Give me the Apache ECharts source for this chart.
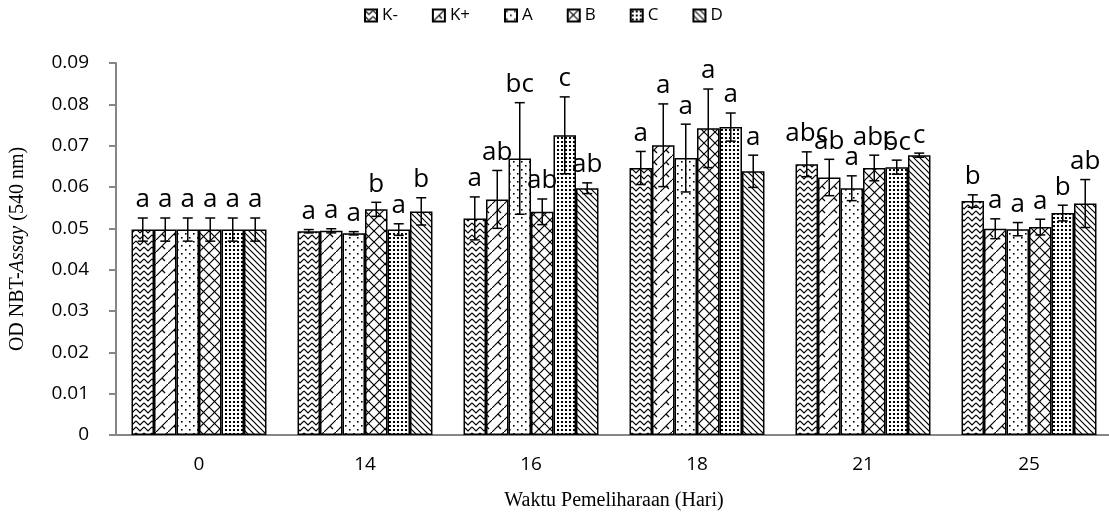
<!DOCTYPE html>
<html>
<head>
<meta charset="utf-8">
<script src="https://cdn.jsdelivr.net/npm/echarts@6/dist/echarts.min.js"></script>
<style>
html, body { margin: 0; padding: 0; background: #fff; }
#main { width: 1109px; height: 516px; }
</style>
</head>
<body>
<div id="main"></div>
<script>
// data
var categories = ['0', '14', '16', '18', '21', '25'];
var seriesNames = ['K-', 'K+', 'A', 'B', 'C', 'D'];

var kMinus = [0.0497, 0.0493, 0.0524, 0.0646, 0.0655, 0.0566];
var kPlus  = [0.0497, 0.0494, 0.0570, 0.0701, 0.0623, 0.0499];
var trtA   = [0.0497, 0.0488, 0.0669, 0.0670, 0.0597, 0.0498];
var trtB   = [0.0497, 0.0546, 0.0540, 0.0742, 0.0646, 0.0503];
var trtC   = [0.0497, 0.0497, 0.0725, 0.0745, 0.0648, 0.0537];
var trtD   = [0.0497, 0.0541, 0.0597, 0.0638, 0.0677, 0.0560];

// standard deviation (error bars)
var errKMinus = [0.0028, 0.0004, 0.0052, 0.0040, 0.0030, 0.0015];
var errKPlus  = [0.0028, 0.0005, 0.0070, 0.0100, 0.0044, 0.0024];
var errA      = [0.0028, 0.0004, 0.0135, 0.0082, 0.0030, 0.0016];
var errB      = [0.0028, 0.0017, 0.0031, 0.0095, 0.0031, 0.0019];
var errC      = [0.0028, 0.0014, 0.0093, 0.0034, 0.0017, 0.0019];
var errD      = [0.0028, 0.0033, 0.0013, 0.0039, 0.0005, 0.0058];

// notasi huruf
var labKMinus = ['a', 'a', 'a', 'a', 'abc', 'b'];
var labKPlus  = ['a', 'a', 'ab', 'a', 'ab', 'a'];
var labA      = ['a', 'a', 'bc', 'a', 'a', 'a'];
var labB      = ['a', 'b', 'ab', 'a', 'abc', 'a'];
var labC      = ['a', 'a', 'c', 'a', 'bc', 'b'];
var labD      = ['a', 'b', 'ab', 'a', 'c', 'ab'];

var yTicks = [0, 0.09, 0.01]; // min, max, interval

var values = [kMinus, kPlus, trtA, trtB, trtC, trtD];
var errors = [errKMinus, errKPlus, errA, errB, errC, errD];
var letters = [labKMinus, labKPlus, labA, labB, labC, labD];

var catGap = 0.187;

// pola arsiran (pattern fills)
function tile(w, h, draw) {
    var c = document.createElement('canvas');
    c.width = w; c.height = h;
    var ctx = c.getContext('2d');
    ctx.fillStyle = '#fff';
    ctx.fillRect(0, 0, w, h);
    ctx.strokeStyle = '#000';
    ctx.fillStyle = '#000';
    ctx.lineWidth = 1.2;
    draw(ctx);
    return { image: c, repeat: 'repeat' };
}
var patterns = [
    tile(8, 6, function (ctx) { // zigzag
        ctx.beginPath(); ctx.moveTo(0, 1); ctx.lineTo(4, 5); ctx.lineTo(8, 1); ctx.stroke();
    }),
    tile(12, 12, function (ctx) { // diagonal shingle
        ctx.beginPath(); ctx.moveTo(-1, 13); ctx.lineTo(13, -1); ctx.stroke();
        ctx.beginPath(); ctx.moveTo(6, 6); ctx.lineTo(9, 9); ctx.stroke();
    }),
    tile(8, 8, function (ctx) { // sparse dots
        ctx.fillRect(1, 1, 1.6, 1.6); ctx.fillRect(5, 5, 1.6, 1.6);
    }),
    tile(11, 11, function (ctx) { // diamond lattice
        ctx.beginPath(); ctx.moveTo(0, 0); ctx.lineTo(11, 11); ctx.stroke();
        ctx.beginPath(); ctx.moveTo(0, 11); ctx.lineTo(11, 0); ctx.stroke();
    }),
    tile(4, 4, function (ctx) { // dense dots
        ctx.fillRect(1, 1, 2, 2);
    }),
    tile(6, 6, function (ctx) { // downward diagonal
        ctx.beginPath(); ctx.moveTo(-1, -1); ctx.lineTo(7, 7); ctx.stroke();
        ctx.beginPath(); ctx.moveTo(-4, 2); ctx.lineTo(4, 10); ctx.stroke();
        ctx.beginPath(); ctx.moveTo(2, -4); ctx.lineTo(10, 4); ctx.stroke();
    })
];

var myChart = echarts.init(document.getElementById('main'));

var series = [];
seriesNames.forEach(function (name, i) {
    series.push({
        name: name,
        type: 'bar',
        data: values[i],
        barGap: '0%',
        barCategoryGap: (catGap * 100) + '%',
        itemStyle: { color: patterns[i], borderColor: '#000', borderWidth: 1.5 },
        z: 2
    });
});
seriesNames.forEach(function (name, i) {
    series.push({
        name: name + ' sd',
        type: 'custom',
        z: 5,
        data: values[i].map(function (v, k) { return [k, v, errors[i][k]]; }),
        renderItem: function (params, api) {
            var k = api.value(0), v = api.value(1), e = api.value(2);
            var band = api.size([1, 0])[0];
            var bw = band * (1 - catGap) / seriesNames.length;
            var x = api.coord([k, 0])[0] + (i - 2.5) * bw;
            var yTop = api.coord([k, v + e])[1];
            var yBot = api.coord([k, v - e])[1];
            var st = { stroke: '#000', lineWidth: 1.5 };
            return {
                type: 'group',
                children: [
                    { type: 'line', shape: { x1: x, y1: yTop, x2: x, y2: yBot }, style: st },
                    { type: 'line', shape: { x1: x - 5, y1: yTop, x2: x + 5, y2: yTop }, style: st },
                    { type: 'line', shape: { x1: x - 5, y1: yBot, x2: x + 5, y2: yBot }, style: st },
                    {
                        type: 'text',
                        style: {
                            text: letters[i][k], x: x, y: yTop - 5,
                            align: 'center', verticalAlign: 'bottom',
                            font: '26px "Open Sans"', fill: '#000'
                        }
                    }
                ]
            };
        }
    });
});

var option = {
    animation: false,
    backgroundColor: '#fff',
    legend: {
        data: seriesNames,
        top: 2,
        left: 359,
        icon: 'rect',
        itemWidth: 12,
        itemHeight: 12,
        itemGap: 34,
        textStyle: { fontFamily: 'Open Sans', fontSize: 17, color: '#000' }
    },
    grid: { left: 116, width: 996, top: 63, height: 372, outerBoundsMode: 'none', containLabel: false },
    xAxis: {
        type: 'category',
        data: categories,
        name: 'Waktu Pemeliharaan (Hari)',
        nameLocation: 'middle',
        nameGap: 56,
        nameTextStyle: { fontFamily: 'Liberation Serif', fontSize: 20, color: '#000' },
        axisLine: { lineStyle: { color: '#868686', width: 2 } },
        axisTick: { length: 7, lineStyle: { color: '#868686', width: 2 } },
        axisLabel: { fontFamily: 'Open Sans', fontSize: 19, color: '#000', margin: 20 }
    },
    yAxis: {
        type: 'value',
        min: yTicks[0],
        max: yTicks[1],
        interval: yTicks[2],
        name: '{n|OD NBT-}{i|Assay}{n| (540 nm)}',
        nameLocation: 'middle',
        nameGap: 88,
        nameTextStyle: {
            rich: {
                n: { fontFamily: 'Liberation Serif', fontSize: 20, color: '#000' },
                i: { fontFamily: 'Liberation Serif', fontSize: 20, fontStyle: 'italic', color: '#000' }
            }
        },
        splitLine: { show: false },
        axisLine: { show: true, lineStyle: { color: '#868686', width: 2 } },
        axisTick: { show: true, length: 7, lineStyle: { color: '#868686', width: 2 } },
        axisLabel: {
            fontFamily: 'Open Sans', fontSize: 19, color: '#000', margin: 27,
            formatter: function (v) { return v === 0 ? '0' : v.toFixed(2); }
        }
    },
    series: series
};
myChart.setOption(option);
</script>
</body>
</html>
